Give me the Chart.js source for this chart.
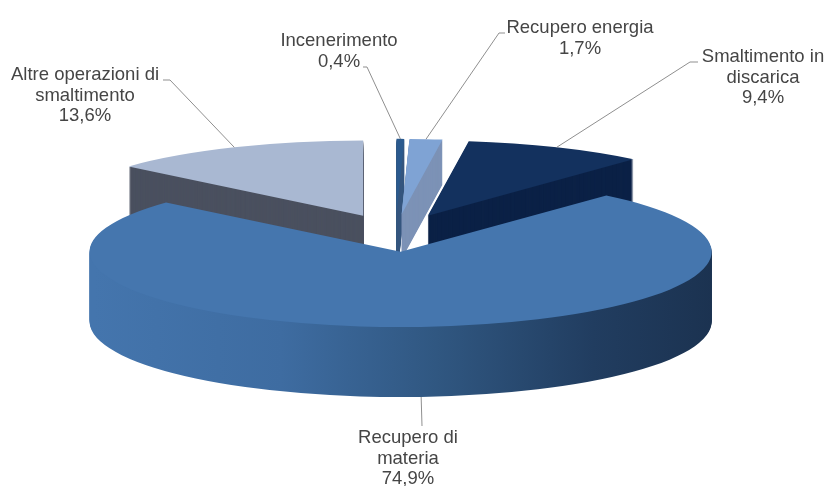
<!DOCTYPE html>
<html>
<head>
<meta charset="utf-8">
<title>Gestione rifiuti</title>
<script src="https://cdn.jsdelivr.net/npm/chart.js@4"></script>
<style>
  html, body { margin: 0; padding: 0; background: #fff; }
  #box { width: 826px; height: 486px; position: relative; }
</style>
</head>
<body>
<div id="box"><canvas id="graficoTorta"></canvas></div>
<script>
// ========== DATI ==========
const categorie = ['Incenerimento', 'Recupero energia', 'Smaltimento in discarica', 'Recupero di materia', 'Altre operazioni di smaltimento'];
const percentuali = [0.4, 1.7, 9.4, 74.9, 13.6];
const righeEtichetta = [['Incenerimento'], ['Recupero energia'], ['Smaltimento in', 'discarica'], ['Recupero di', 'materia'], ['Altre operazioni di', 'smaltimento']];

// ========== STILE ==========
const coloriTop = ['#2b5a8e', '#7fa3d4', '#13315e', '#4576ae', '#a9b8d2'];
const coloriLato = ['#37587f', '#7c92b6', '#0b2146', null, '#4a505f'];
const profondita = [70, 45, 70, 70, 70];   // spessore di ogni fetta in px
const ordine = [4, 0, 1, 2, 3];            // dal fondo verso chi guarda
const schiacciamento = 0.242;              // inclinazione della torta
const esplosione = 78;

// testo centrato e linea guida di ogni etichetta: x, y prima riga, piega della linea
const posEtichette = [
  { x: 339, y: 41, piega: [[363, 67], [367, 67]] },
  { x: 580, y: 28, piega: [[505, 33], [499, 33]] },
  { x: 763, y: 57, piega: [[698, 62], [690, 62]] },
  { x: 408, y: 438, piega: [[422, 426]] },
  { x: 85, y: 75, piega: [[163, 80], [170, 80]] }
];

function percento(v) {
  return v.toFixed(1).replace('.', ',') + '%';
}

function spostamento(arc, r) {
  const medio = (arc.startAngle + arc.endAngle) / 2;
  return { x: Math.cos(medio) * r, y: Math.sin(medio) * r };
}

// Torta 3D: ogni ArcElement viene ridisegnato a strati dentro un contesto schiacciato
const torta3d = {
  id: 'torta3d',
  beforeDatasetDraw(chart, args) {
    const ctx = chart.ctx;
    const archi = args.meta.data;
    const cy = archi[0].y;

    const sfumatura = ctx.createLinearGradient(89, 0, 712, 0);
    sfumatura.addColorStop(0, '#4475ad');
    sfumatura.addColorStop(0.3, '#3e6ca1');
    sfumatura.addColorStop(0.55, '#305781');
    sfumatura.addColorStop(0.8, '#213d60');
    sfumatura.addColorStop(1, '#1b3250');

    ctx.save();
    ctx.translate(0, cy);
    ctx.scale(1, schiacciamento);
    ctx.translate(0, -cy);

    ordine.forEach(i => {
      const arc = archi[i];
      const s = spostamento(arc, esplosione);
      const opzioni = arc.options;

      arc.options = { ...opzioni, backgroundColor: coloriLato[i] || sfumatura };
      for (let h = profondita[i]; h > 0; h--) {
        ctx.save();
        ctx.translate(s.x, s.y + h / schiacciamento);
        arc.draw(ctx);
        ctx.restore();
      }
      arc.options = opzioni;

      ctx.save();
      ctx.translate(s.x, s.y);
      arc.draw(ctx);
      ctx.restore();
    });

    ctx.restore();
    return false;
  },
  afterDatasetsDraw(chart) {
    const ctx = chart.ctx;
    const archi = chart.getDatasetMeta(0).data;
    const cy = archi[0].y;

    ctx.save();
    archi.forEach((arc, i) => {
      const pos = posEtichette[i];
      const s = spostamento(arc, esplosione + arc.outerRadius);
      // la fetta grande aggancia la linea al bordo inferiore del lato
      const fondo = s.y > 0 ? profondita[i] : 0;
      const ax = arc.x + s.x;
      const ay = cy + s.y * schiacciamento + fondo;

      ctx.strokeStyle = '#8f8f8f';
      ctx.lineWidth = 1;
      ctx.beginPath();
      pos.piega.forEach((p, k) => k === 0 ? ctx.moveTo(p[0], p[1]) : ctx.lineTo(p[0], p[1]));
      ctx.lineTo(ax, ay);
      ctx.stroke();

      ctx.fillStyle = '#454545';
      ctx.font = '18.5px "Liberation Sans", Arial, sans-serif';
      ctx.textAlign = 'center';
      ctx.textBaseline = 'middle';
      const righe = [...righeEtichetta[i], percento(percentuali[i])];
      righe.forEach((r, k) => ctx.fillText(r, pos.x, pos.y + k * 20.5));
    });
    ctx.restore();
  }
};

new Chart(document.getElementById('graficoTorta'), {
  type: 'pie',
  data: {
    labels: categorie,
    datasets: [{
      data: percentuali,
      backgroundColor: coloriTop,
      borderWidth: 0,
      radius: 311
    }]
  },
  options: {
    responsive: true,
    maintainAspectRatio: false,
    animation: false,
    layout: { padding: { right: 35, bottom: 20 } },
    plugins: { legend: { display: false }, tooltip: { enabled: false } }
  },
  plugins: [torta3d]
});
</script>
</body>
</html>
